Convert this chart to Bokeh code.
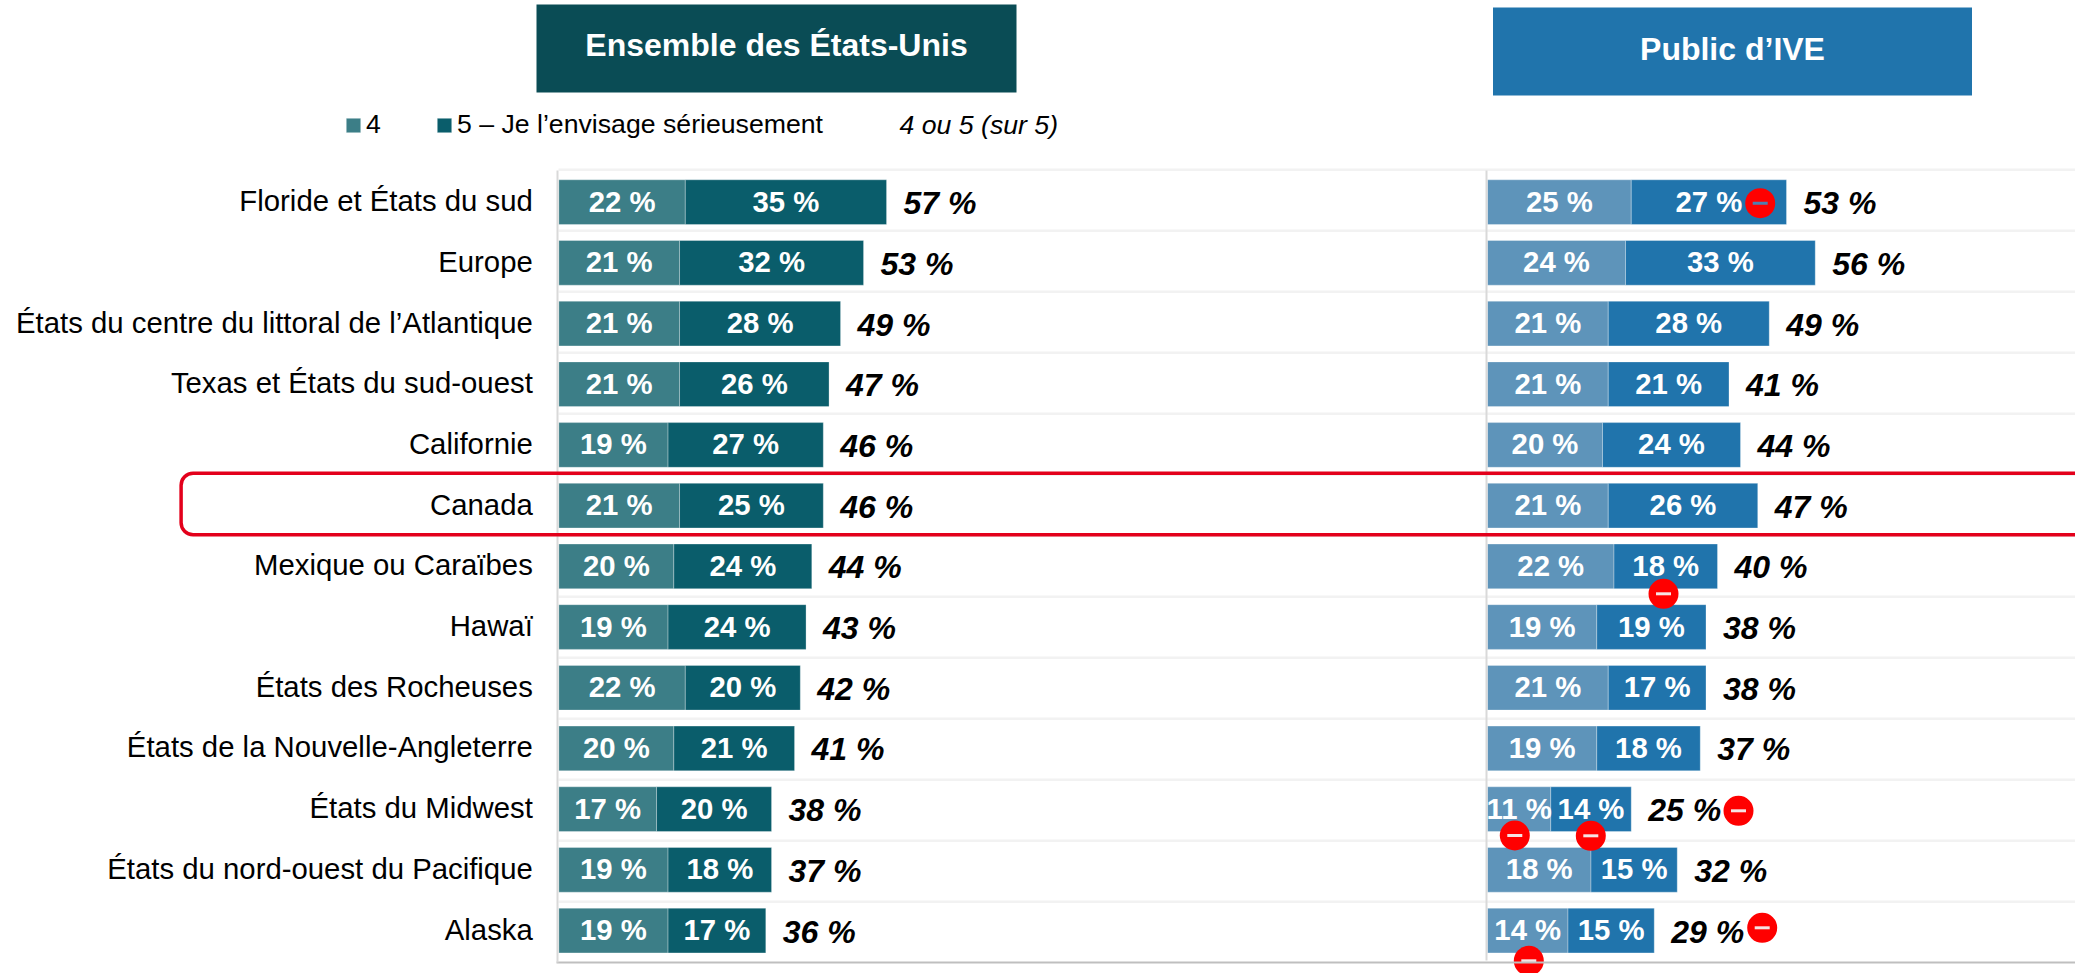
from bokeh.embed import file_html
from bokeh.resources import INLINE
from bokeh.plotting import figure
from bokeh.core.properties import value
from bokeh.models import (BoxAnnotation, ColumnDataSource, FixedTicker, Legend, LegendItem,
                          LinearAxis, Range1d)

# ---------- data ----------
categories = ["Floride et États du sud", "Europe", "États du centre du littoral de l’Atlantique",
              "Texas et États du sud-ouest", "Californie", "Canada", "Mexique ou Caraïbes", "Hawaï",
              "États des Rocheuses", "États de la Nouvelle-Angleterre", "États du Midwest",
              "États du nord-ouest du Pacifique", "Alaska"]
us_4 = [22, 21, 21, 21, 19, 21, 20, 19, 22, 20, 17, 19, 19]
us_5 = [35, 32, 28, 26, 27, 25, 24, 24, 20, 21, 20, 18, 17]
us_total = [57, 53, 49, 47, 46, 46, 44, 43, 42, 41, 38, 37, 36]
ive_4 = [25, 24, 21, 21, 20, 21, 22, 19, 21, 19, 11, 18, 14]
ive_5 = [27, 33, 28, 21, 24, 26, 18, 19, 17, 18, 14, 15, 15]
ive_total = [53, 56, 49, 41, 44, 47, 40, 38, 38, 37, 25, 32, 29]
legend_labels = ["4", "5 – Je l’envisage sérieusement"]
legend_note = "4 ou 5 (sur 5)"
headers = ["Ensemble des États-Unis", "Public d’IVE"]

# ---------- layout: page pixels to chart units ----------
W, H = 2075, 973
PX_PER_UNIT = 5.75
US_ZERO, IVE_ZERO = 558.3, 1487.0
ROW0, ROW_PITCH = 201.65, 60.7
BAR_H = 44.7 / ROW_PITCH


def X(px):
    return (px - US_ZERO) / PX_PER_UNIT


def Y(px):
    return (px - ROW0) / ROW_PITCH


FONT = value("Liberation Sans")
C_US4, C_US5 = "#3c7e87", "#0a5d6b"
C_IVE4, C_IVE5 = "#5e94ba", "#2074ac"

p = figure(width=W, height=H, output_backend="svg", toolbar_location=None,
           x_range=Range1d(X(0), X(W)), y_range=Range1d(Y(H), Y(0)),
           x_axis_type=None, y_axis_type=None, min_border=0,
           outline_line_color=None)
p.extra_x_ranges["ive"] = Range1d(-IVE_ZERO / PX_PER_UNIT, (W - IVE_ZERO) / PX_PER_UNIT)

# horizontal separator bands
grid_px = [169.3 + 61.0 * i for i in range(13)]
p.segment(x0=[X(558)] * 13, x1=[X(W)] * 13, y0=[Y(g) for g in grid_px], y1=[Y(g) for g in grid_px],
          line_color="#f2f2f2", line_width=2.5)

rows = list(range(len(categories)))
src = ColumnDataSource(dict(
    y=rows,
    u4=us_4, u45=[a + b for a, b in zip(us_4, us_5)],
    i4=ive_4, i45=[a + b for a, b in zip(ive_4, ive_5)],
    u4m=[a / 2 for a in us_4], u5m=[a + b / 2 for a, b in zip(us_4, us_5)],
    i4m=[a / 2 for a in ive_4], i5m=[a + b / 2 for a, b in zip(ive_4, ive_5)],
    u4t=[f"{v} %" for v in us_4], u5t=[f"{v} %" for v in us_5],
    i4t=[f"{v} %" for v in ive_4], i5t=[f"{v} %" for v in ive_5],
    ut=[f"{v} %" for v in us_total], it=[f"{v} %" for v in ive_total],
))

bar = dict(source=src, y="y", height=BAR_H, line_color="#ffffff", line_alpha=0.3, line_width=1)
r_u4 = p.hbar(left=0, right="u4", fill_color=C_US4, **bar)
r_u5 = p.hbar(left="u4", right="u45", fill_color=C_US5, **bar)
p.hbar(left=0, right="i4", fill_color=C_IVE4, x_range_name="ive", **bar)
p.hbar(left="i4", right="i45", fill_color=C_IVE5, x_range_name="ive", **bar)

seg = dict(source=src, y="y", text_color="#ffffff", text_font=FONT, text_font_style="bold",
           text_font_size="29.33px", text_align="center", text_baseline="middle", y_offset=-1)
p.text(x="u4m", text="u4t", **seg)
p.text(x="u5m", text="u5t", **seg)
p.text(x="i4m", text="i4t", x_range_name="ive", **seg)
p.text(x="i5m", text="i5t", x_range_name="ive", **seg)

tot = dict(source=src, y="y", text_color="#000000", text_font=FONT, text_font_style="bold italic",
           text_font_size="32px", text_align="left", text_baseline="middle", x_offset=17, y_offset=1)
p.text(x="u45", text="ut", **tot)
p.text(x="i45", text="it", x_range_name="ive", **tot)

# axes drawn inside the single frame; the row labels sit slightly above the bar centres
AXIS_SHIFT = -1 / PX_PER_UNIT
label_ticks = [r - 1.5 / ROW_PITCH for r in rows]
y_axis = LinearAxis(fixed_location=AXIS_SHIFT, ticker=FixedTicker(ticks=label_ticks),
                    major_label_overrides=dict(zip(label_ticks, categories)),
                    major_tick_line_color=None, minor_tick_line_color=None,
                    major_label_standoff=19, major_label_text_font="Liberation Sans",
                    major_label_text_font_size="29.33px", major_label_text_color="#000000",
                    axis_line_color="#d9d9d9", axis_line_width=2, bounds=(Y(170), Y(962)))
p.add_layout(y_axis, "left")
y_axis_ive = LinearAxis(fixed_location=AXIS_SHIFT, x_range_name="ive", ticker=FixedTicker(ticks=[]),
                        major_tick_line_color=None, minor_tick_line_color=None,
                        axis_line_color="#d9d9d9", axis_line_width=2, bounds=(Y(170), Y(960)))
p.add_layout(y_axis_ive, "left")
x_axis = LinearAxis(fixed_location=Y(962.3), ticker=FixedTicker(ticks=[]),
                    major_tick_line_color=None, minor_tick_line_color=None,
                    axis_line_color="#bfbfbf", axis_line_width=2, bounds=(X(556), X(W)))
p.add_layout(x_axis, "below")

# header boxes
p.quad(left=[X(536), X(1492.5)], right=[X(1016), X(1971.5)], top=[Y(4), Y(7)], bottom=[Y(92), Y(95)],
       fill_color=["#0a4c55", "#2074ac"], line_color=None)
p.text(x=[X(776), X(1732)], y=[Y(44.5), Y(48.5)], text=headers, text_color="#ffffff", text_font=FONT,
       text_font_style="bold", text_font_size="32px", text_align="center", text_baseline="middle")

# legend
legend = Legend(items=[LegendItem(label=legend_labels[0], renderers=[r_u4]),
                       LegendItem(label=legend_labels[1], renderers=[r_u5])],
                orientation="horizontal", location=(344, H - 140), padding=0, margin=0,
                spacing=49, label_standoff=4, glyph_width=18, glyph_height=18,
                background_fill_alpha=0, border_line_color=None,
                label_text_font="Liberation Sans", label_text_font_size="26.67px",
                label_text_color="#000000")
p.add_layout(legend, "center")
p.text(x=[X(899)], y=[Y(124)], text=[legend_note], text_color="#000000", text_font=FONT,
       text_font_style="italic", text_font_size="26.67px", text_align="left", text_baseline="middle")

# highlight around Canada
p.add_layout(BoxAnnotation(left=X(180.6), right=X(W + 30), top=Y(472.7), bottom=Y(534.3),
                           fill_alpha=0, line_color="#e3001b", line_alpha=1, line_width=3.5,
                           border_radius=12))

# significance badges
badge_x = [1759.7, 1663.0, 1514.3, 1590.3, 1738.0, 1761.7, 1528.3]
badge_y = [202.7, 593.3, 835.0, 835.3, 810.3, 927.3, 960.3]
badge_dash = ["#4f7fb0", "#f6e4e4", "#f6e4e4", "#f6e4e4", "#f6e4e4", "#f6e4e4", "#f6e4e4"]
bx = [X(v) for v in badge_x]
by = [Y(v) for v in badge_y]
p.scatter(x=bx, y=by, size=30, marker="circle", fill_color="#ff0000", line_color=None)
p.scatter(x=bx, y=by, size=15, marker="dash", line_color=badge_dash, line_width=3)

open("out.html", "w").write(file_html(p, INLINE))
